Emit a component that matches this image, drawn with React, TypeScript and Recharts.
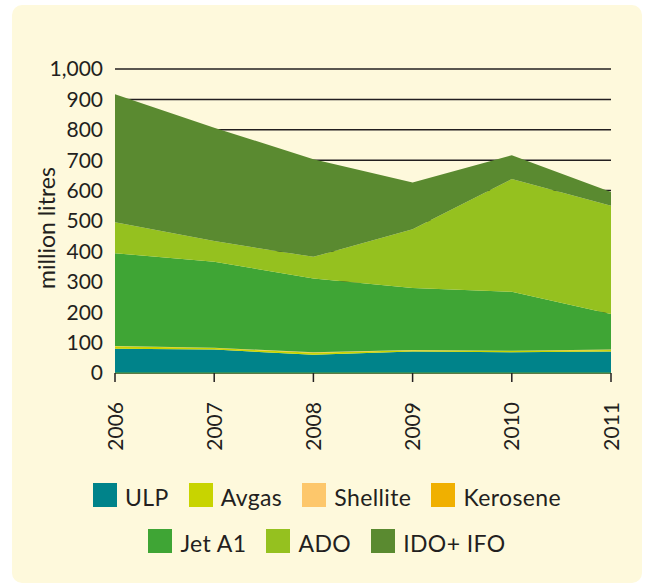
import React from "react";
import { AreaChart, Area, XAxis, YAxis, CartesianGrid } from "recharts";

// years on the x axis
const years = ["2006", "2007", "2008", "2009", "2010", "2011"];

// million litres
const ulp = [80, 77, 60, 71, 68, 71];
const avgas = [8, 5, 7, 4, 4, 5];
const shellite = [0.5, 0.5, 0.5, 0.5, 0.5, 0.5];
const kerosene = [0.5, 0.5, 0.5, 0.5, 0.5, 0.5];
const jetA1 = [305, 283, 243, 204, 194, 117];
const ado = [102, 68, 71, 193, 371, 356];
const idoIfo = [421, 373, 321, 154, 78, 45];

const yTicks = [0, 100, 200, 300, 400, 500, 600, 700, 800, 900, 1000];

const series = [
  { key: "ULP", values: ulp, color: "#00838A" },
  { key: "Avgas", values: avgas, color: "#C8D400" },
  { key: "Shellite", values: shellite, color: "#FDC76B" },
  { key: "Kerosene", values: kerosene, color: "#F0B000" },
  { key: "Jet A1", values: jetA1, color: "#3FA535" },
  { key: "ADO", values: ado, color: "#95C11F" },
  { key: "IDO+ IFO", values: idoIfo, color: "#5A8A30" },
];

const legendRows = [
  ["ULP", "Avgas", "Shellite", "Kerosene"],
  ["Jet A1", "ADO", "IDO+ IFO"],
];

const chartData = years.map((year, i) => {
  const row: Record<string, string | number> = { year };
  series.forEach((s) => {
    row[s.key] = s.values[i];
  });
  return row;
});

const FONT = "Lato, sans-serif";
const TEXT = "#231F20";

const YearTick = ({ x, y, payload }: any) => (
  <text
    x={x}
    y={y + 18}
    transform={`rotate(-90, ${x}, ${y + 18})`}
    textAnchor="end"
    dy="0.36em"
    fontSize={21}
    fontFamily={FONT}
    fill={TEXT}
  >
    {payload.value}
  </text>
);

const YLabel = ({ viewBox }: any) => {
  const cx = viewBox.x + 12;
  const cy = viewBox.y + viewBox.height / 2 + 7;
  return (
    <text
      x={cx}
      y={cy}
      transform={`rotate(-90, ${cx}, ${cy})`}
      textAnchor="middle"
      dy="0.36em"
      fontSize={23}
      fontFamily={FONT}
      fill={TEXT}
    >
      million litres
    </text>
  );
};

export default function App() {
  return (
    <div style={{ position: "absolute", left: 0, top: 0, width: 646, height: 583, background: "#fff" }}>
      <div
        style={{
          position: "absolute",
          left: 12,
          top: 5,
          width: 630,
          height: 578,
          background: "#FEF9DC",
          borderRadius: 10,
          fontFamily: FONT,
        }}
      >
        <AreaChart
          width={630}
          height={460}
          data={chartData}
          margin={{ top: 64, right: 31, left: 23, bottom: 12 }}
        >
          <CartesianGrid horizontal vertical={false} stroke="#231F20" strokeWidth={1.5} />
          <XAxis
            dataKey="year"
            height={80}
            axisLine={{ stroke: "#5E9E3A", strokeWidth: 1 }}
            tickLine={{ stroke: "#231F20", strokeWidth: 1.5 }}
            tickSize={9}
            tick={<YearTick />}
            interval={0}
          />
          <YAxis
            width={80}
            domain={[0, 1000]}
            ticks={yTicks}
            axisLine={false}
            tickLine={false}
            tickSize={6}
            tickMargin={6}
            tick={{ fontSize: 21, fontFamily: FONT, fill: TEXT }}
            tickFormatter={(v: number) => v.toLocaleString("en-US")}
            label={<YLabel />}
          />
          {series.map((s) => (
            <Area
              key={s.key}
              type="linear"
              dataKey={s.key}
              stackId="fuel"
              stroke="none"
              fill={s.color}
              fillOpacity={1}
              isAnimationActive={false}
            />
          ))}
        </AreaChart>
        <div style={{ position: "absolute", left: 0, top: 478, width: 630 }}>
          {legendRows.map((row, ri) => (
            <div
              key={ri}
              style={{
                display: "flex",
                justifyContent: "center",
                alignItems: "center",
                height: 24,
                marginBottom: 22,
                gap: 20,
              }}
            >
              {row.map((name) => {
                const s = series.find((item) => item.key === name)!;
                return (
                  <div key={name} style={{ display: "flex", alignItems: "center" }}>
                    <span style={{ width: 24, height: 24, background: s.color, marginRight: 8 }} />
                    <span
                      style={{
                        fontSize: 23,
                        letterSpacing: 0.4,
                        color: TEXT,
                        lineHeight: "24px",
                        position: "relative",
                        top: 2,
                      }}
                    >
                      {name}
                    </span>
                  </div>
                );
              })}
            </div>
          ))}
        </div>
      </div>
    </div>
  );
}
